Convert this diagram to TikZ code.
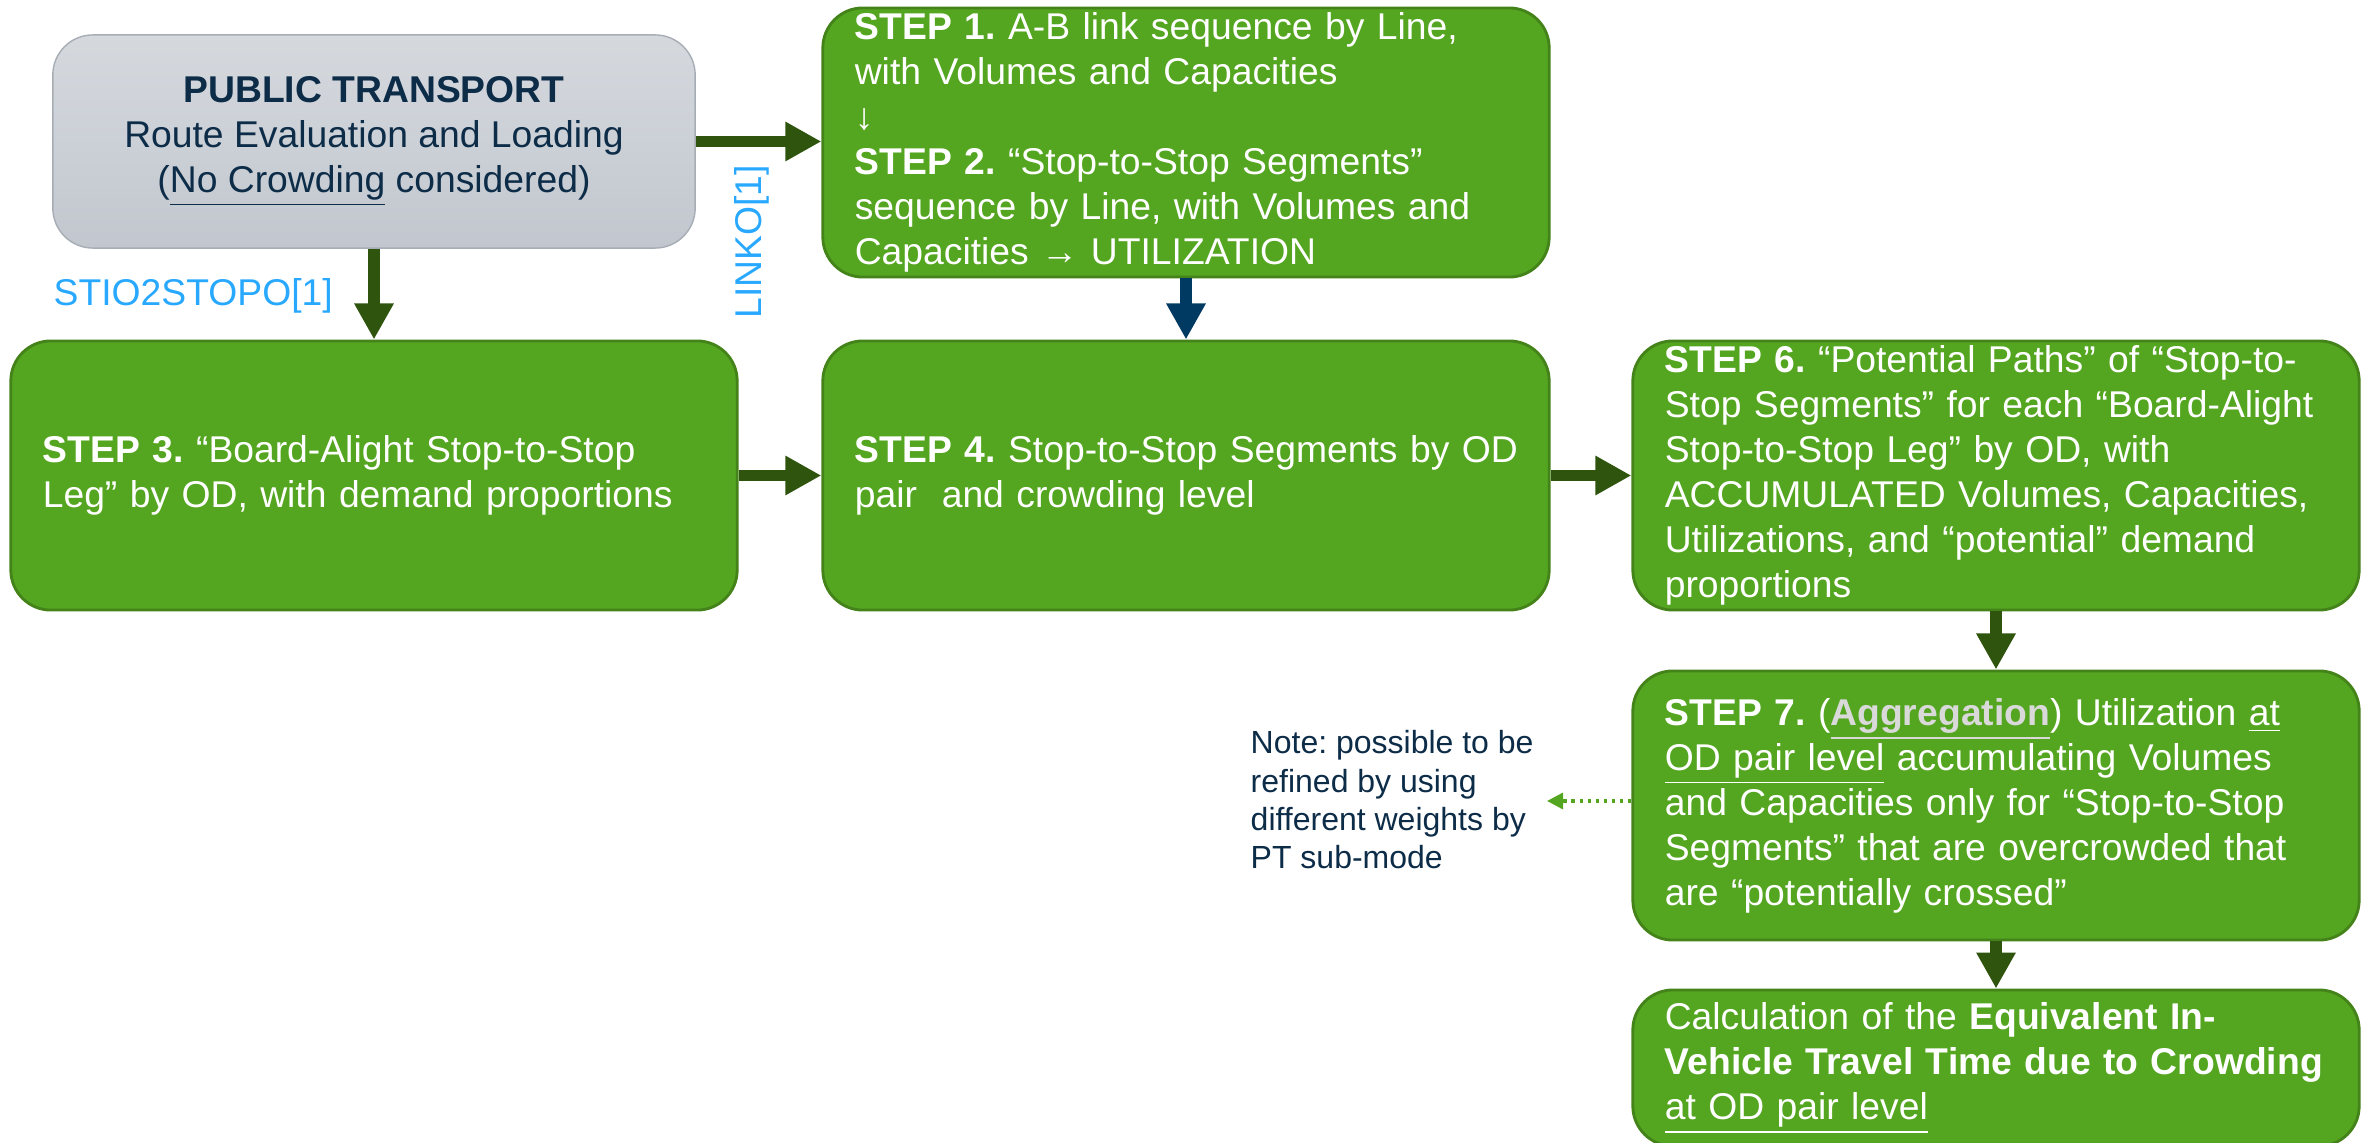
\documentclass[tikz,border=0pt]{standalone}
\usepackage{fontspec}
\setmainfont{Liberation Sans}
\usetikzlibrary{positioning,arrows.meta}
\frenchspacing

\definecolor{stepgreen}{RGB}{84,165,32}
\definecolor{stepedge}{RGB}{68,130,26}
\definecolor{flowgreen}{RGB}{46,84,14}
\definecolor{flowblue}{RGB}{0,58,99}
\definecolor{codeblue}{RGB}{41,168,255}
\definecolor{navy}{RGB}{13,44,72}
\definecolor{greytop}{RGB}{213,217,222}
\definecolor{greybot}{RGB}{194,199,207}
\definecolor{greyedge}{RGB}{167,173,181}
\definecolor{aggrgrey}{RGB}{217,217,217}

\begin{document}
\begin{tikzpicture}[x=0.01cm,y=-0.01cm,
	every node/.style={font=\fontsize{10.6}{12.8}\selectfont},
	stepbox/.style={draw=stepedge,line width=0.8pt,fill=stepgreen,rounded corners=0.4cm,
		text=white,align=left,text width=6.62cm,inner xsep=0.32cm,inner ysep=0pt,minimum height=2.69cm},
	ptbox/.style={draw=greyedge,line width=0.4pt,top color=greytop,bottom color=greybot,rounded corners=0.4cm,
		text=navy,align=center,minimum width=6.42cm,minimum height=2.13cm},
	flow/.style={draw=flowgreen,line width=0.115cm,-{Triangle[length=0.36cm,width=0.37cm]}},
	notelink/.style={draw=stepgreen,line width=0.95pt,dash pattern=on 0.95pt off 1.35pt,
		-{Triangle[length=0.16cm,width=0.16cm]}},
	codelabel/.style={text=codeblue,inner sep=0pt}]
	\useasboundingbox (0,0) rectangle (2369,1143);

	% Assignment output
	\node[ptbox] (pt) at (374,141.5) {\textbf{PUBLIC TRANSPORT}\\Route Evaluation and Loading\\(\underline{No Crowding} considered)};

	% Steps
	\node[stepbox] (s12) at (1186,142.5) {\textbf{STEP 1.} A-B link sequence by Line,\\with Volumes and Capacities\\↓\\\textbf{STEP 2.} “Stop-to-Stop Segments”\\sequence by Line, with Volumes and\\Capacities → UTILIZATION};
	\node[stepbox] (s3) at (374,475.5) {\textbf{STEP 3.} “Board-Alight Stop-to-Stop\\Leg” by OD, with demand proportions};
	\node[stepbox] (s4) at (1186,475.5) {\mbox{\textbf{STEP 4.} Stop-to-Stop Segments by OD}\\pair\ \ and crowding level};
	\node[stepbox] (s6) at (1996,475.5) {\textbf{STEP 6.} “Potential Paths” of “Stop-to-\\Stop Segments” for each “Board-Alight\\Stop-to-Stop Leg” by OD, with\\ACCUMULATED Volumes, Capacities,\\Utilizations, and “potential” demand\\proportions};
	\node[stepbox] (s7) at (1996,805.5) {\textbf{STEP 7.} ({\color{aggrgrey}\underline{\textbf{Aggregation}}}) Utilization \underline{at}\\\underline{OD pair level} accumulating Volumes\\and Capacities only for “Stop-to-Stop\\Segments” that are overcrowded that\\are “potentially crossed”};
	\node[stepbox,minimum height=1.56cm] (calc) at (1996,1068) {Calculation of the \textbf{Equivalent In-}\\\textbf{Vehicle Travel Time due to Crowding}\\\underline{at OD pair level}};

	% Side texts
	\node[codelabel,anchor=west] (stoplbl) at (53,296) {STIO2STOPO[1]};
	\node[codelabel,rotate=90] (linklbl) at (752,242) {LINKO[1]};
	\node[text=navy,align=left,anchor=west,inner sep=0pt,font=\fontsize{9.1}{10.9}\selectfont] (note) at (1250,800) {Note: possible to be\\refined by using\\different weights by\\PT sub-mode};
	\coordinate (noteend) at (1547,801);

	% Connectors
	\draw[flow] (pt.east) -- (pt.east -| s12.west);
	\draw[flow] (pt.south) -- (s3.north);
	\draw[flow,draw=flowblue] (s12.south) -- (s4.north);
	\draw[flow] (s3.east) -- (s4.west);
	\draw[flow] (s4.east) -- (s6.west);
	\draw[flow] (s6.south) -- (s7.north);
	\draw[flow] (s7.south) -- (calc.north);
	\draw[notelink] (noteend -| s7.west) -- (noteend);
\end{tikzpicture}
\end{document}
